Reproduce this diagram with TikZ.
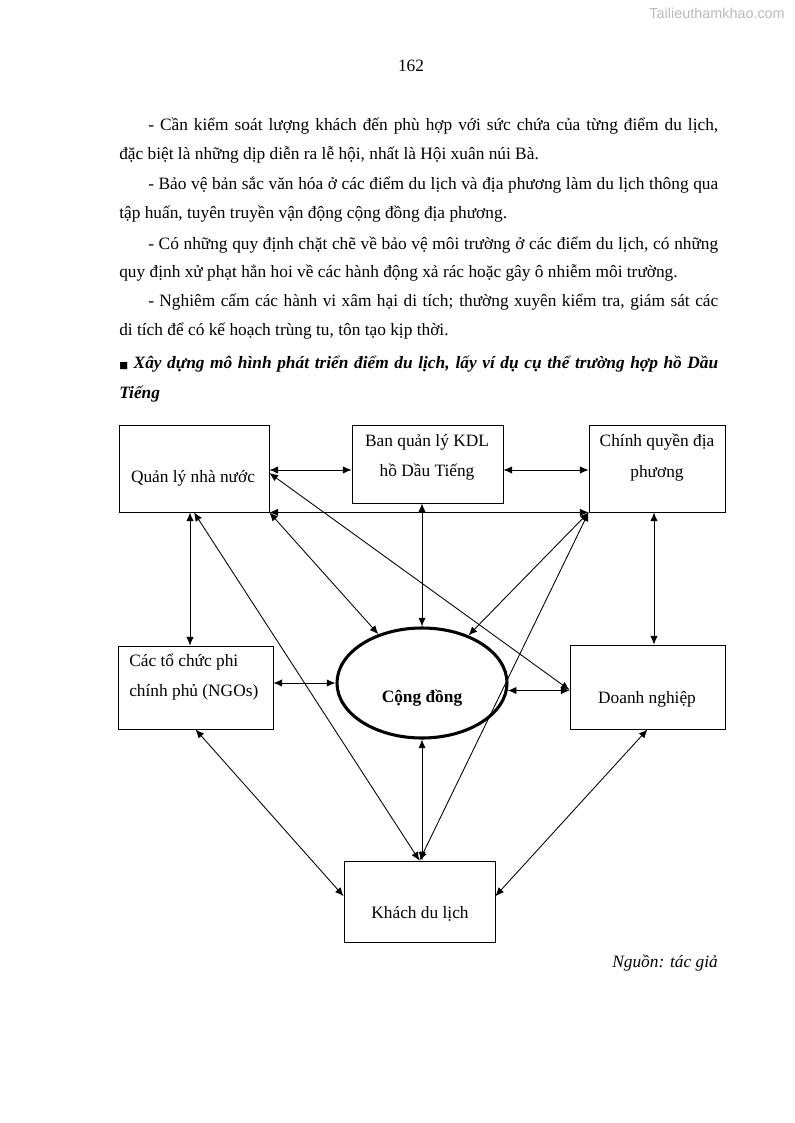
\documentclass[tikz,border=0pt]{standalone}
\usepackage{fontspec}
\setmainfont{Liberation Serif}
\newfontfamily\wmfont{Liberation Sans}
\newfontfamily\symfont{DejaVu Sans}
\usetikzlibrary{arrows.meta,shapes.geometric}
\newcommand\myfont{\fontsize{13pt}{15pt}\selectfont}
\begin{document}
\begin{tikzpicture}[x=0.75pt,y=-0.75pt, font=\myfont,
  box/.style={draw, line width=0.6pt, inner sep=0pt},
  lbl/.style={anchor=base, inner sep=0pt},
  txt/.style={anchor=base west, inner sep=0pt},
  arr/.style={{Latex[length=6.5pt,width=5.5pt]}-{Latex[length=6.5pt,width=5.5pt]}, line width=0.65pt}]
\useasboundingbox (0,0) rectangle (794,1123);

% watermark and page number
\node[anchor=base east, inner sep=0pt, font=\wmfont\fontsize{10.8pt}{12pt}\selectfont, text=gray!55] (wm) at (785,19) {Tailieuthamkhao.com};
\node[lbl] (pg) at (411,72) {162};

% paragraphs
\node[txt] (l1) at (148,131) {\makebox[427.5pt][s]{- Cần kiểm soát lượng khách đến phù hợp với sức chứa của từng điểm du lịch,}};
\node[txt] (l2) at (119,160) {đặc biệt là những dịp diễn ra lễ hội, nhất là Hội xuân núi Bà.};
\node[txt] (l3) at (148,190) {\makebox[427.5pt][s]{- Bảo vệ bản sắc văn hóa ở các điểm du lịch và địa phương làm du lịch thông qua}};
\node[txt] (l4) at (119,219) {tập huấn, tuyên truyền vận động cộng đồng địa phương.};
\node[txt] (l5) at (148,249) {\makebox[427.5pt][s]{- Có những quy định chặt chẽ về bảo vệ môi trường ở các điểm du lịch, có những}};
\node[txt] (l6) at (119,277) {quy định xử phạt hẳn hoi về các hành động xả rác hoặc gây ô nhiễm môi trường.};
\node[txt] (l7) at (148,306) {\makebox[427.5pt][s]{- Nghiêm cấm các hành vi xâm hại di tích; thường xuyên kiểm tra, giám sát các}};
\node[txt] (l8) at (119,335) {di tích để có kế hoạch trùng tu, tôn tạo kịp thời.};
\node[txt] (l9) at (119,368) {\bfseries\itshape\makebox[449.25pt][s]{{\symfont\upshape\mdseries\fontsize{7pt}{7pt}\selectfont ■} Xây dựng mô hình phát triển điểm du lịch, lấy ví dụ cụ thể trường hợp hồ Dầu}};
\node[txt, font=\myfont\bfseries\itshape] (l10) at (119,398) {Tiếng};

% boxes
\node[box, minimum width=112.5pt, minimum height=65.25pt] (qlnn) at (194,468.5) {};
\node[box, minimum width=113.25pt, minimum height=58.5pt] (bql) at (427.5,464) {};
\node[box, minimum width=102pt, minimum height=65.25pt] (cq) at (657,468.5) {};
\node[box, minimum width=116.25pt, minimum height=62.25pt] (ngo) at (195.5,687.5) {};
\node[box, minimum width=116.25pt, minimum height=63pt] (dn) at (647.5,687) {};
\node[box, minimum width=113.25pt, minimum height=60.75pt] (kdl) at (419.5,901.5) {};
\node[ellipse, draw, line width=2.3pt, inner sep=0pt, minimum width=127.5pt, minimum height=82.5pt] (cd) at (422,683) {};

% labels
\node[lbl] (t-qlnn) at (193,482) {Quản lý nhà nước};
\node[lbl] (t-bql1) at (427,446) {Ban quản lý KDL};
\node[lbl] (t-bql2) at (427,476) {hồ Dầu Tiếng};
\node[lbl] (t-cq1) at (657,446) {Chính quyền địa};
\node[lbl] (t-cq2) at (657,477) {phương};
\node[txt] (t-ngo1) at (129,666) {Các tổ chức phi};
\node[txt] (t-ngo2) at (129,696) {chính phủ (NGOs)};
\node[lbl, font=\myfont\bfseries] (t-cd) at (422,702) {Cộng đồng};
\node[lbl] (t-dn) at (647,703) {Doanh nghiệp};
\node[lbl] (t-kdl) at (420,918) {Khách du lịch};
\node[lbl, anchor=base east, font=\myfont\itshape] (src) at (718,967) {Nguồn: tác giả};

% connectors
\draw[arr] ([yshift=-1.1pt]qlnn.east) -- ([yshift=-1.1pt]qlnn.east -| bql.west);
\draw[arr] ([yshift=-4.5pt]bql.east) -- ([yshift=-4.5pt]bql.east -| cq.west);
\draw[arr] (qlnn.south east) -- (cq.south west);
\draw[arr] (cd.north |- bql.south) -- (cd.north);
\draw[arr] (qlnn.south east) -- (cd);
\draw[arr] ([yshift=-3.4pt]qlnn.east) -- ([yshift=-2.25pt]dn.west);
\draw[arr] ([xshift=-3pt]qlnn.south) -- ([xshift=-3pt]qlnn.south |- ngo.north);
\draw[arr] (qlnn.south) -- (kdl.north);
\draw[arr] (cq.south west) -- (cd);
\draw[arr] (cq.south west) -- (kdl.north);
\draw[arr] ([xshift=-2.25pt]cq.south) -- ([xshift=-2.25pt]cq.south |- dn.north);
\draw[arr] (cd.west -| ngo.east) -- (cd.west);
\draw[arr] (cd.-5) -- (cd.-5 -| dn.west);
\draw[arr] (ngo.south) -- ([yshift=4pt]kdl.west);
\draw[arr] (cd.south) -- (cd.south |- kdl.north);
\draw[arr] (dn.south) -- ([yshift=4pt]kdl.east);
\end{tikzpicture}
\end{document}
